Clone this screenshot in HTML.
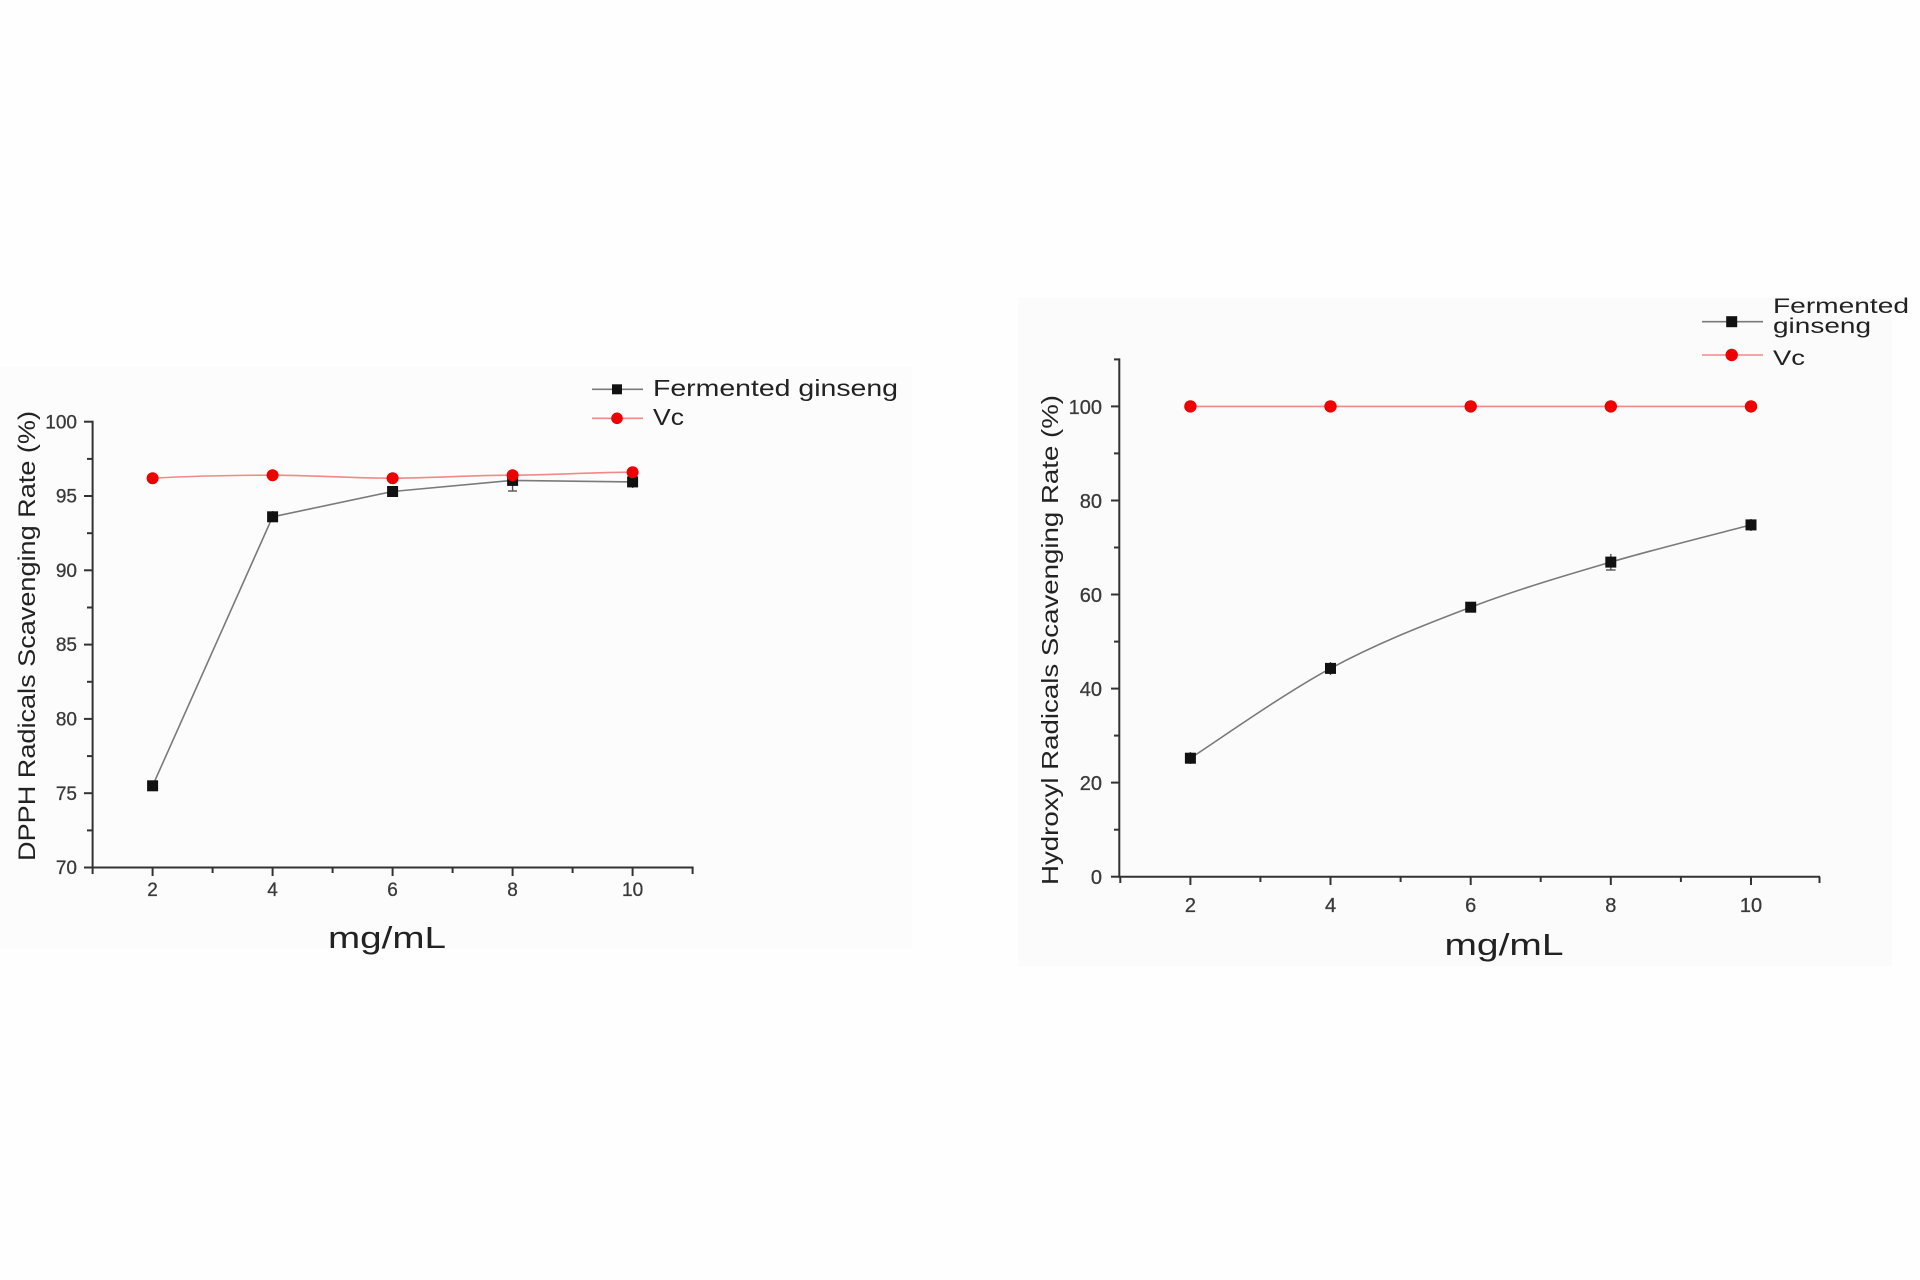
<!DOCTYPE html>
<html>
<head>
<meta charset="utf-8">
<style>
  html, body { margin: 0; padding: 0; background: #fefefe; }
  svg { display: block; }
  text { font-family: "Liberation Sans", "DejaVu Sans", sans-serif; }
</style>
</head>
<body>
<svg width="1920" height="1280" viewBox="0 0 1920 1280" xmlns="http://www.w3.org/2000/svg">
  <rect x="0" y="0" width="1920" height="1280" fill="#fefefe"/>
  <!-- faint panels -->
  <rect x="0" y="367" width="912" height="582" fill="#fcfcfc"/>
  <rect x="1018" y="298" width="874" height="668" fill="#fbfbfb"/>

  <!-- ================= CHART 1 ================= -->
  <g stroke="#333" stroke-width="2" fill="none">
    <line x1="92.6" y1="420.7" x2="92.6" y2="868.5"/>
    <line x1="91.6" y1="867.5" x2="693.6" y2="867.5"/>
    <line x1="84" y1="421.7" x2="92.6" y2="421.7"/>
    <line x1="84" y1="496.0" x2="92.6" y2="496.0"/>
    <line x1="84" y1="570.3" x2="92.6" y2="570.3"/>
    <line x1="84" y1="644.6" x2="92.6" y2="644.6"/>
    <line x1="84" y1="718.9" x2="92.6" y2="718.9"/>
    <line x1="84" y1="793.2" x2="92.6" y2="793.2"/>
    <line x1="84" y1="867.5" x2="92.6" y2="867.5"/>
    <line x1="87" y1="458.9" x2="92.6" y2="458.9"/>
    <line x1="87" y1="533.2" x2="92.6" y2="533.2"/>
    <line x1="87" y1="607.5" x2="92.6" y2="607.5"/>
    <line x1="87" y1="681.8" x2="92.6" y2="681.8"/>
    <line x1="87" y1="756.1" x2="92.6" y2="756.1"/>
    <line x1="87" y1="830.4" x2="92.6" y2="830.4"/>
    <line x1="92.6" y1="867.5" x2="92.6" y2="874"/>
    <line x1="152.6" y1="867.5" x2="152.6" y2="876"/>
    <line x1="212.6" y1="867.5" x2="212.6" y2="873"/>
    <line x1="272.6" y1="867.5" x2="272.6" y2="876"/>
    <line x1="332.6" y1="867.5" x2="332.6" y2="873"/>
    <line x1="392.6" y1="867.5" x2="392.6" y2="876"/>
    <line x1="452.6" y1="867.5" x2="452.6" y2="873"/>
    <line x1="512.6" y1="867.5" x2="512.6" y2="876"/>
    <line x1="572.6" y1="867.5" x2="572.6" y2="873"/>
    <line x1="632.6" y1="867.5" x2="632.6" y2="876"/>
    <line x1="692.6" y1="867.5" x2="692.6" y2="874"/>
  </g>
  <g fill="#3a3a3a" font-size="19" text-anchor="end" stroke="#3a3a3a" stroke-width="0.3">
    <text x="77" y="428.5">100</text>
    <text x="77" y="502.5">95</text>
    <text x="77" y="577">90</text>
    <text x="77" y="651">85</text>
    <text x="77" y="725.5">80</text>
    <text x="77" y="800">75</text>
    <text x="77" y="874">70</text>
  </g>
  <g fill="#3a3a3a" font-size="19" text-anchor="middle" stroke="#3a3a3a" stroke-width="0.3">
    <text x="152.6" y="896">2</text>
    <text x="272.6" y="896">4</text>
    <text x="392.6" y="896">6</text>
    <text x="512.6" y="896">8</text>
    <text x="632.6" y="896">10</text>
  </g>
  <text transform="translate(35,636) rotate(-90)" text-anchor="middle" font-size="24" fill="#222" textLength="450" lengthAdjust="spacingAndGlyphs">DPPH Radicals Scavenging Rate (%)</text>
  <text x="387" y="948" text-anchor="middle" font-size="31" fill="#222" textLength="118" lengthAdjust="spacingAndGlyphs">mg/mL</text>

  <path d="M152.6,478.2 C192,476 232,475.2 272.6,475.2 C312,475.2 352,478.2 392.6,478.2 C432,478.2 472,475.2 512.6,475.2 C552,475.2 592,472.2 632.6,472.2" stroke="#f08a8a" stroke-width="1.6" fill="none"/>
  <polyline points="152.6,785.8 272.6,516.8 392.6,491.5 512.6,480.4 632.6,481.9" stroke="#7a7a7a" stroke-width="1.6" fill="none"/>
  <g stroke="#555" stroke-width="1.4">
    <line x1="512.6" y1="472" x2="512.6" y2="491"/>
    <line x1="508" y1="491" x2="517" y2="491"/>
    <line x1="632.6" y1="476" x2="632.6" y2="488"/>
    <line x1="272.6" y1="511" x2="272.6" y2="522"/>
  </g>
  <g fill="#111">
    <rect x="147.1" y="780.3" width="11" height="11"/>
    <rect x="267.1" y="511.3" width="11" height="11"/>
    <rect x="387.1" y="486" width="11" height="11"/>
    <rect x="507.1" y="474.9" width="11" height="11"/>
    <rect x="627.1" y="476.4" width="11" height="11"/>
  </g>
  <g fill="#ee0000">
    <circle cx="152.6" cy="478.2" r="6"/>
    <circle cx="272.6" cy="475.2" r="6"/>
    <circle cx="392.6" cy="478.2" r="6"/>
    <circle cx="512.6" cy="475.2" r="6"/>
    <circle cx="632.6" cy="472.2" r="6"/>
  </g>

  <line x1="592" y1="389.3" x2="643" y2="389.3" stroke="#7a7a7a" stroke-width="1.6"/>
  <rect x="612" y="384.3" width="10" height="10" fill="#111"/>
  <text x="653" y="396" font-size="23" fill="#222" textLength="245" lengthAdjust="spacingAndGlyphs">Fermented ginseng</text>
  <line x1="592" y1="418.3" x2="643" y2="418.3" stroke="#f08a8a" stroke-width="1.6"/>
  <circle cx="617" cy="418.3" r="5.8" fill="#ee0000"/>
  <text x="653" y="425" font-size="23" fill="#222" textLength="31" lengthAdjust="spacingAndGlyphs">Vc</text>

  <!-- ================= CHART 2 ================= -->
  <g stroke="#333" stroke-width="2" fill="none">
    <line x1="1119.3" y1="358.4" x2="1119.3" y2="877.7"/>
    <line x1="1118.3" y1="876.7" x2="1820" y2="876.7"/>
    <line x1="1111" y1="876.7" x2="1119.3" y2="876.7"/>
    <line x1="1111" y1="782.6" x2="1119.3" y2="782.6"/>
    <line x1="1111" y1="688.6" x2="1119.3" y2="688.6"/>
    <line x1="1111" y1="594.5" x2="1119.3" y2="594.5"/>
    <line x1="1111" y1="500.5" x2="1119.3" y2="500.5"/>
    <line x1="1111" y1="406.4" x2="1119.3" y2="406.4"/>
    <line x1="1114" y1="829.7" x2="1119.3" y2="829.7"/>
    <line x1="1114" y1="735.6" x2="1119.3" y2="735.6"/>
    <line x1="1114" y1="641.6" x2="1119.3" y2="641.6"/>
    <line x1="1114" y1="547.5" x2="1119.3" y2="547.5"/>
    <line x1="1114" y1="453.4" x2="1119.3" y2="453.4"/>
    <line x1="1114" y1="359.4" x2="1119.3" y2="359.4"/>
    <line x1="1120.3" y1="876.7" x2="1120.3" y2="883"/>
    <line x1="1190.4" y1="876.7" x2="1190.4" y2="885"/>
    <line x1="1260.4" y1="876.7" x2="1260.4" y2="882"/>
    <line x1="1330.5" y1="876.7" x2="1330.5" y2="885"/>
    <line x1="1400.6" y1="876.7" x2="1400.6" y2="882"/>
    <line x1="1470.7" y1="876.7" x2="1470.7" y2="885"/>
    <line x1="1540.7" y1="876.7" x2="1540.7" y2="882"/>
    <line x1="1610.8" y1="876.7" x2="1610.8" y2="885"/>
    <line x1="1680.9" y1="876.7" x2="1680.9" y2="882"/>
    <line x1="1751.0" y1="876.7" x2="1751.0" y2="885"/>
    <line x1="1819.5" y1="876.7" x2="1819.5" y2="883"/>
  </g>
  <g fill="#3a3a3a" font-size="20" text-anchor="end" stroke="#3a3a3a" stroke-width="0.3">
    <text x="1102" y="884">0</text>
    <text x="1102" y="790">20</text>
    <text x="1102" y="696">40</text>
    <text x="1102" y="602">60</text>
    <text x="1102" y="508">80</text>
    <text x="1102" y="414">100</text>
  </g>
  <g fill="#3a3a3a" font-size="20" text-anchor="middle" stroke="#3a3a3a" stroke-width="0.3">
    <text x="1190.4" y="912">2</text>
    <text x="1330.5" y="912">4</text>
    <text x="1470.7" y="912">6</text>
    <text x="1610.8" y="912">8</text>
    <text x="1751.0" y="912">10</text>
  </g>
  <text transform="translate(1058,640) rotate(-90)" text-anchor="middle" font-size="23" fill="#222" textLength="490" lengthAdjust="spacingAndGlyphs">Hydroxyl Radicals Scavenging Rate (%)</text>
  <text x="1504" y="955" text-anchor="middle" font-size="31" fill="#222" textLength="119" lengthAdjust="spacingAndGlyphs">mg/mL</text>

  <line x1="1190.4" y1="406.4" x2="1751" y2="406.4" stroke="#f08a8a" stroke-width="1.6"/>
  <path d="M1190.4,758.2 C1213.75,743.23 1283.78,693.57 1330.5,668.4 C1377.22,643.23 1423.98,624.92 1470.7,607.2 C1517.42,589.48 1564.08,575.82 1610.8,562.1 C1657.52,548.38 1727.63,531.1 1751,524.9" stroke="#7a7a7a" stroke-width="1.6" fill="none"/>
  <g stroke="#555" stroke-width="1.4">
    <line x1="1610.8" y1="554" x2="1610.8" y2="570"/>
    <line x1="1606" y1="570" x2="1615.6" y2="570"/>
    <line x1="1751" y1="519" x2="1751" y2="531"/>
    <line x1="1190.4" y1="752" x2="1190.4" y2="764"/>
    <line x1="1330.5" y1="662" x2="1330.5" y2="675"/>
  </g>
  <g fill="#111">
    <rect x="1184.9" y="752.7" width="11" height="11"/>
    <rect x="1325" y="662.9" width="11" height="11"/>
    <rect x="1465.2" y="601.7" width="11" height="11"/>
    <rect x="1605.3" y="556.6" width="11" height="11"/>
    <rect x="1745.5" y="519.4" width="11" height="11"/>
  </g>
  <g fill="#ee0000">
    <circle cx="1190.4" cy="406.4" r="6.2"/>
    <circle cx="1330.5" cy="406.4" r="6.2"/>
    <circle cx="1470.7" cy="406.4" r="6.2"/>
    <circle cx="1610.8" cy="406.4" r="6.2"/>
    <circle cx="1751.0" cy="406.4" r="6.2"/>
  </g>

  <line x1="1702" y1="321.7" x2="1763" y2="321.7" stroke="#7a7a7a" stroke-width="1.6"/>
  <rect x="1726.2" y="316.2" width="11" height="11" fill="#111"/>
  <text x="1773" y="313" font-size="21" fill="#222" textLength="136" lengthAdjust="spacingAndGlyphs">Fermented</text>
  <text x="1773" y="333" font-size="21" fill="#222" textLength="98" lengthAdjust="spacingAndGlyphs">ginseng</text>
  <line x1="1702" y1="355" x2="1763" y2="355" stroke="#f08a8a" stroke-width="1.6"/>
  <circle cx="1731.7" cy="355" r="6.2" fill="#ee0000"/>
  <text x="1773" y="365" font-size="21" fill="#222" textLength="32" lengthAdjust="spacingAndGlyphs">Vc</text>
</svg>
</body>
</html>
